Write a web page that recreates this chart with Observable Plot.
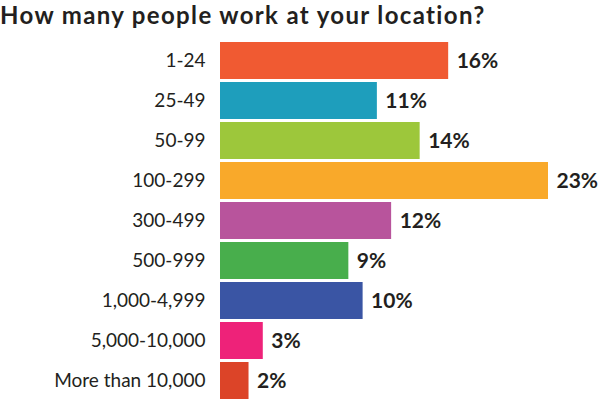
<!DOCTYPE html>
<html>
<head>
<meta charset="utf-8">
<script src="https://cdn.jsdelivr.net/npm/d3@7"></script>
<script src="https://cdn.jsdelivr.net/npm/@observablehq/plot@0.6"></script>
<style>
  body { margin: 0; background: #fff; width: 600px; height: 400px; overflow: hidden; }
  #title { font: 700 24px Lato, sans-serif; letter-spacing: 1.35px; color: #231f20; height: 34px; line-height: 29px; margin: 0; white-space: nowrap; }
  #chart svg { display: block; }
</style>
</head>
<body>
<div id="title">How many people work at your location?</div>
<div id="chart"></div>
<script>
const categories = ["1-24", "25-49", "50-99", "100-299", "300-499", "500-999", "1,000-4,999", "5,000-10,000", "More than 10,000"];
const values = [16, 11, 14, 23, 12, 9, 10, 3, 2];
const colors = ["#F05A32", "#1E9EBC", "#9DC73B", "#F9A92A", "#B8549C", "#48AE4C", "#3A55A4", "#EE2279", "#DC4428"];

const data = categories.map((c, i) => ({category: c, value: values[i], color: colors[i]}));

const chart = Plot.plot({
  width: 600,
  height: 366,
  marginTop: 8,
  marginBottom: 1,
  marginLeft: 220,
  marginRight: 52,
  style: {fontFamily: "Lato, sans-serif", color: "#231f20", background: "#fff"},
  x: {domain: [0, 23], range: [220, 548], axis: null},
  y: {domain: categories, paddingInner: 0.075, paddingOuter: 0, label: null},
  marks: [
    Plot.barX(data, {x: "value", y: "category", fill: "color"}),
    Plot.text(data, {x: "value", y: "category", text: d => d.value + "%", textAnchor: "start", dx: 8, fontSize: 21, fontWeight: 700, fill: "#231f20"}),
    Plot.axisY({tickSize: 0, tickPadding: 15, fontSize: 19, label: null, fill: "#231f20", style: {letterSpacing: "0.3px"}})
  ]
});
document.getElementById("chart").appendChild(chart);
</script>
</body>
</html>
